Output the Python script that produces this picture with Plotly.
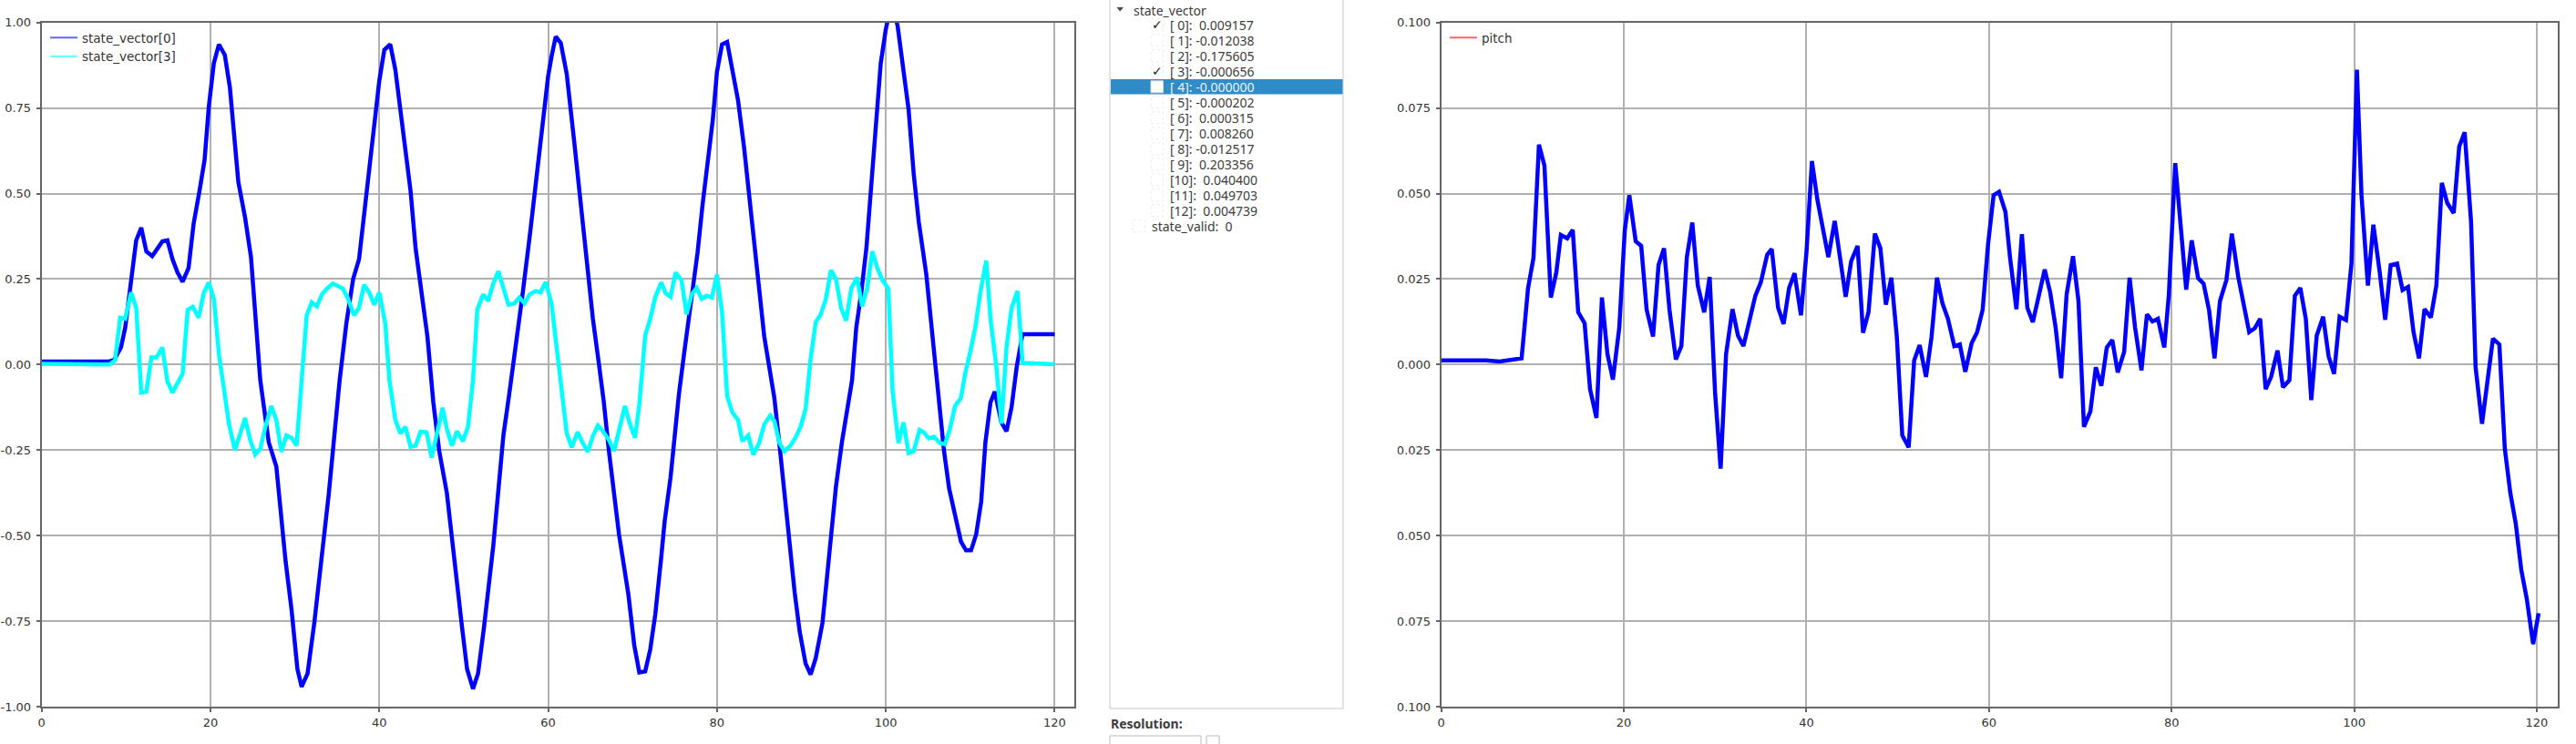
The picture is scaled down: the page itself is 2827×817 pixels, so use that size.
import plotly.graph_objects as go

W, H = 2827, 817

def px(x):
    return x / W

def py(y):
    return 1 - y / H

# ---------------- data ----------------
sv0_t = [0, 8.0, 8.6, 9.4, 9.9, 10.5, 11.2, 11.8, 12.4, 13.1, 13.7, 14.3, 14.9, 15.5, 16.1, 16.7, 17.4, 18.0,
         18.7, 19.3, 19.8, 20.4, 21.0, 21.7, 22.3, 23.3, 24.1, 24.8, 25.9, 26.9, 27.8, 28.9, 29.6, 30.3, 30.8,
         31.5, 32.3, 33.3, 34.0, 34.5, 35.3, 36.1, 36.9, 37.6, 38.2, 38.8, 39.4, 40.0, 40.6, 41.3, 41.9, 42.9,
         43.7, 44.3, 44.9, 45.7, 46.4, 47.1, 48.0, 48.6, 49.2, 49.8, 50.4, 51.1, 51.7, 52.4, 53.5, 54.1, 54.7,
         55.4, 56.2, 57.0, 57.9, 58.8, 59.4, 60.0, 60.4, 60.9, 61.5, 62.2, 63.1, 63.9, 64.7, 65.3, 66.0, 66.6,
         67.2, 67.8, 68.4, 69.5, 70.2, 70.8, 71.5, 72.1, 72.7, 73.4, 73.8, 74.5, 74.9, 75.5, 76.1, 76.5, 77.1,
         77.7, 78.3, 78.9, 79.5, 80.0, 80.6, 81.2, 81.8, 82.5, 83.2, 83.8, 84.4, 85.0, 85.6, 86.2, 86.8, 87.4,
         88.0, 88.6, 89.2, 89.8, 90.5, 91.1, 91.7, 92.5, 93.1, 93.7, 94.1, 94.8, 95.4, 96.0, 96.5, 97.1, 97.7,
         98.3, 98.8, 99.4, 100.0, 100.7, 101.4, 102.0, 102.7, 103.3, 103.9, 104.8, 105.6, 106.2, 106.9, 107.5,
         108.3, 108.9, 109.5, 110.1, 110.7, 111.3, 111.8, 112.4, 112.9, 113.7, 114.3, 114.9, 115.5, 116.2, 120.0]
sv0 = [0.009, 0.009, 0.014, 0.05, 0.108, 0.224, 0.363, 0.40, 0.331, 0.317, 0.338, 0.36, 0.363, 0.308, 0.269,
       0.242, 0.282, 0.411, 0.508, 0.598, 0.753, 0.881, 0.936, 0.905, 0.81, 0.534, 0.43, 0.314, -0.046, -0.227,
       -0.298, -0.575, -0.716, -0.89, -0.942, -0.903, -0.755, -0.549, -0.381, -0.253, -0.046, 0.121, 0.25,
       0.308, 0.443, 0.585, 0.714, 0.83, 0.92, 0.936, 0.862, 0.675, 0.508, 0.34, 0.224, 0.082, -0.111, -0.253,
       -0.375, -0.51, -0.652, -0.768, -0.89, -0.948, -0.903, -0.768, -0.53, -0.356, -0.207, -0.085, 0.057,
       0.211, 0.392, 0.585, 0.714, 0.843, 0.9, 0.959, 0.94, 0.85, 0.649, 0.469, 0.263, 0.134, 0.005, -0.111,
       -0.253, -0.369, -0.497, -0.671, -0.82, -0.9, -0.897, -0.832, -0.729, -0.562, -0.459, -0.33, -0.227,
       -0.085, 0.031, 0.102, 0.211, 0.327, 0.469, 0.598, 0.714, 0.856, 0.936, 0.943, 0.856, 0.772, 0.637,
       0.495, 0.34, 0.198, 0.082, -0.008, -0.098, -0.233, -0.381, -0.536, -0.665, -0.781, -0.874, -0.906,
       -0.858, -0.755, -0.613, -0.472, -0.356, -0.227, -0.143, -0.046, 0.108, 0.211, 0.34, 0.521, 0.701,
       0.881, 0.98, 1.06, 0.99, 0.881, 0.746, 0.559, 0.418, 0.263, 0.057, -0.085, -0.253, -0.362, -0.459,
       -0.517, -0.543, -0.543, -0.497, -0.401, -0.227, -0.111, -0.079, -0.169, -0.195, -0.124, -0.008,
       0.089, 0.089]

sv3_t = [0, 7.0, 8.0, 8.7, 9.3, 9.9, 10.6, 11.2, 11.8, 12.4, 13.0, 13.6, 14.3, 14.9, 15.5, 16.1, 16.7, 17.3,
         17.9, 18.6, 19.2, 19.8, 20.4, 21.0, 21.7, 22.2, 22.9, 23.5, 24.1, 24.7, 25.3, 25.9, 26.5, 27.2, 27.8,
         28.4, 29.0, 29.6, 30.2, 30.8, 31.4, 32.0, 32.6, 33.2, 33.8, 34.5, 35.1, 35.7, 36.3, 37.0, 37.6, 38.2,
         38.8, 39.4, 40.0, 40.7, 41.2, 41.9, 42.5, 43.1, 43.7, 44.3, 44.9, 45.6, 46.2, 46.9, 47.5, 48.0, 48.6,
         49.2, 49.9, 50.5, 51.1, 51.6, 52.3, 52.9, 53.5, 54.1, 54.7, 55.3, 56.0, 56.6, 57.2, 57.8, 58.5, 59.1,
         59.7, 60.4, 61.1, 61.7, 62.2, 62.8, 63.5, 64.1, 64.7, 65.3, 65.9, 66.5, 67.2, 67.8, 68.4, 69.1, 69.7,
         70.3, 70.8, 71.5, 72.1, 72.7, 73.4, 73.9, 74.5, 75.1, 75.8, 76.4, 77.0, 77.6, 78.2, 78.8, 79.4, 80.0,
         80.6, 81.2, 81.8, 82.5, 83.0, 83.7, 84.3, 85.0, 85.6, 86.3, 86.8, 87.4, 88.0, 88.7, 89.3, 89.9, 90.5,
         91.1, 91.7, 92.3, 92.9, 93.5, 94.1, 94.7, 95.3, 95.9, 96.6, 97.2, 97.8, 98.4, 99.0, 99.6, 100.3, 100.8,
         101.5, 102.1, 102.7, 103.3, 104.0, 104.5, 105.1, 105.7, 106.4, 107.0, 107.6, 108.2, 108.9, 109.4,
         110.0, 110.6, 111.2, 111.9, 112.4, 113.1, 113.7, 114.3, 114.9, 115.6, 116.2, 120.0]
sv3 = [0.002, 0.002, 0.0, 0.012, 0.137, 0.134, 0.211, 0.166, -0.082, -0.079, 0.021, 0.021, 0.05, -0.049,
       -0.082, -0.054, -0.027, 0.16, 0.169, 0.137, 0.209, 0.24, 0.192, 0.031, -0.098, -0.175, -0.25, -0.204,
       -0.156, -0.22, -0.263, -0.246, -0.182, -0.121, -0.162, -0.255, -0.207, -0.214, -0.237, -0.046, 0.144,
       0.182, 0.17, 0.205, 0.222, 0.237, 0.231, 0.222, 0.192, 0.144, 0.166, 0.233, 0.211, 0.175, 0.211, 0.121,
       -0.046, -0.162, -0.201, -0.182, -0.24, -0.237, -0.196, -0.198, -0.272, -0.195, -0.126, -0.188, -0.237,
       -0.195, -0.224, -0.182, -0.046, 0.16, 0.205, 0.186, 0.237, 0.273, 0.222, 0.175, 0.179, 0.196, 0.179,
       0.205, 0.215, 0.211, 0.241, 0.179, 0.031, -0.111, -0.201, -0.242, -0.197, -0.229, -0.255, -0.209,
       -0.178, -0.195, -0.22, -0.253, -0.188, -0.121, -0.175, -0.214, -0.117, 0.085, 0.134, 0.198, 0.24,
       0.209, 0.198, 0.269, 0.247, 0.147, 0.205, 0.224, 0.192, 0.201, 0.196, 0.263, 0.153, -0.091, -0.139,
       -0.162, -0.224, -0.207, -0.263, -0.229, -0.175, -0.149, -0.165, -0.229, -0.253, -0.237, -0.214,
       -0.182, -0.13, 0.018, 0.124, 0.147, 0.192, 0.276, 0.25, 0.166, 0.128, 0.222, 0.255, 0.17, 0.224,
       0.331, 0.282, 0.247, 0.222, -0.079, -0.229, -0.169, -0.259, -0.253, -0.191, -0.198, -0.216, -0.211,
       -0.229, -0.233, -0.188, -0.121, -0.098, -0.027, 0.037, 0.108, 0.211, 0.304, 0.134, -0.008, -0.173,
       0.05, 0.166, 0.215, 0.005, 0.001]

pitch_t = [0, 4.9, 6.4, 7.6, 8.8, 9.5, 10.1, 10.7, 11.3, 12.0, 12.6, 13.1, 13.8, 14.4, 15.0, 15.7, 16.3,
           17.0, 17.6, 18.2, 18.8, 19.5, 20.1, 20.6, 21.3, 21.9, 22.5, 23.2, 23.8, 24.4, 25.0, 25.7, 26.3,
           26.9, 27.5, 28.1, 28.8, 29.4, 30.0, 30.6, 31.2, 31.9, 32.5, 33.1, 33.8, 34.4, 35.0, 35.7, 36.2,
           36.9, 37.5, 38.1, 38.7, 39.4, 40.0, 40.6, 41.2, 41.8, 42.4, 43.1, 43.7, 44.3, 44.9, 45.6, 46.2,
           46.8, 47.5, 48.1, 48.7, 49.3, 49.9, 50.5, 51.2, 51.8, 52.4, 53.1, 53.7, 54.3, 54.9, 55.5, 56.2,
           56.8, 57.4, 58.1, 58.7, 59.3, 59.9, 60.5, 61.1, 61.8, 62.3, 63.0, 63.6, 64.2, 64.8, 65.4, 66.1,
           66.7, 67.3, 67.9, 68.5, 69.2, 69.8, 70.4, 71.1, 71.7, 72.3, 72.9, 73.5, 74.1, 74.8, 75.4, 76.0,
           76.7, 77.3, 77.9, 78.5, 79.2, 79.7, 80.4, 81.0, 81.6, 82.2, 82.9, 83.5, 84.1, 84.7, 85.3, 86.0,
           86.6, 87.3, 87.9, 88.5, 89.1, 89.7, 90.3, 90.9, 91.6, 92.2, 92.9, 93.5, 94.1, 94.7, 95.3, 95.9,
           96.6, 97.2, 97.8, 98.4, 99.1, 99.7, 100.3, 100.8, 101.5, 102.1, 102.8, 103.4, 104.0, 104.7, 105.3,
           105.9, 106.5, 107.1, 107.7, 108.4, 109.0, 109.6, 110.2, 110.9, 111.5, 112.1, 112.8, 113.3, 114.0,
           114.6, 115.2, 115.9, 116.5, 117.1, 117.7, 118.3, 118.9, 119.6, 120.2]
pitch = [0.0012, 0.0012, 0.0009, 0.0013, 0.0018, 0.0222, 0.0312, 0.0643, 0.0582, 0.0196, 0.0269, 0.0379,
         0.0369, 0.0394, 0.0153, 0.0121, -0.0072, -0.0156, 0.0196, 0.0031, -0.0044, 0.0108, 0.0392, 0.0495,
         0.036, 0.0347, 0.016, 0.0082, 0.0291, 0.034, 0.016, 0.0015, 0.0054, 0.0314, 0.0415, 0.0231, 0.0153,
         0.0256, -0.0085, -0.0304, 0.0031, 0.0162, 0.0085, 0.0054, 0.0128, 0.0201, 0.024, 0.0321, 0.0338,
         0.0166, 0.0119, 0.0224, 0.0267, 0.0144, 0.0327, 0.0595, 0.0482, 0.0398, 0.0314, 0.042, 0.0314,
         0.0198, 0.0302, 0.0347, 0.0093, 0.0153, 0.0383, 0.034, 0.0175, 0.0254, 0.0082, -0.0207, -0.0242,
         0.0012, 0.0057, -0.0036, 0.008, 0.0254, 0.0179, 0.0134, 0.0054, 0.0059, -0.0021, 0.0063, 0.0095,
         0.016, 0.0353, 0.0495, 0.0505, 0.0446, 0.0314, 0.0162, 0.0381, 0.0166, 0.0124, 0.0198, 0.0278,
         0.0211, 0.0108, -0.004, 0.0205, 0.0317, 0.0186, -0.0182, -0.0137, -0.0008, -0.0062, 0.005, 0.0072,
         -0.0023, 0.0037, 0.0254, 0.0108, -0.0017, 0.0147, 0.0126, 0.0134, 0.005, 0.0205, 0.0589, 0.0385,
         0.0219, 0.0363, 0.0253, 0.0237, 0.016, 0.0018, 0.0186, 0.0247, 0.0383, 0.0256, 0.0173, 0.0095,
         0.0106, 0.0134, -0.0072, -0.0036, 0.0041, -0.0066, -0.0046, 0.0201, 0.0224, 0.0134, -0.0104, 0.0085,
         0.014, 0.0024, -0.0027, 0.014, 0.013, 0.0295, 0.0862, 0.0495, 0.0231, 0.0409, 0.0269, 0.0131, 0.0291,
         0.0295, 0.0218, 0.0227, 0.0095, 0.0018, 0.0162, 0.0138, 0.0231, 0.0531, 0.0472, 0.0443, 0.0637,
         0.0679, 0.0418, -0.0008, -0.0173, -0.0049, 0.0076, 0.0059, -0.0246, -0.0375, -0.0465, -0.06,
         -0.0684, -0.0817, -0.0727]

x_ticks = [0, 20, 40, 60, 80, 100, 120]
x_ticktext = ["0", "20", "40", "60", "80", "100", "120"]
left_yticks = [-1.0, -0.75, -0.5, -0.25, 0.0, 0.25, 0.5, 0.75, 1.0]
left_yticktext = ["-1.00", "-0.75", "-0.50", "-0.25", "0.00", "0.25", "0.50", "0.75", "1.00"]
right_yticks = [-0.1, -0.075, -0.05, -0.025, 0.0, 0.025, 0.05, 0.075, 0.1]
right_yticktext = ["-0.100", "-0.075", "-0.050", "-0.025", "0.000", "0.025", "0.050", "0.075", "0.100"]

tree_labels = ["[ 0]:", "[ 1]:", "[ 2]:", "[ 3]:", "[ 4]:", "[ 5]:", "[ 6]:", "[ 7]:", "[ 8]:", "[ 9]:",
               "[10]:", "[11]:", "[12]:"]
tree_values = ["0.009157", "-0.012038", "-0.175605", "-0.000656", "-0.000000", "-0.000202", "0.000315",
               "0.008260", "-0.012517", "0.203356", "0.040400", "0.049703", "0.004739"]
tree_checked = [True, False, False, True, False, False, False, False, False, False, False, False, False]
selected_row = 4

# ---------------- figure ----------------
fig = go.Figure()

fig.add_trace(go.Scatter(x=sv0_t, y=sv0, mode="lines", line=dict(color="#0000ff", width=4.5),
                         xaxis="x", yaxis="y", showlegend=False, hoverinfo="skip"))
fig.add_trace(go.Scatter(x=sv3_t, y=sv3, mode="lines", line=dict(color="#00ffff", width=4.5),
                         xaxis="x", yaxis="y", showlegend=False, hoverinfo="skip"))
fig.add_trace(go.Scatter(x=pitch_t, y=pitch, mode="lines", line=dict(color="#0000ff", width=4.5),
                         xaxis="x2", yaxis="y2", showlegend=False, hoverinfo="skip"))
# legend entries (legend swatches are drawn lighter, as in the original)
fig.add_trace(go.Scatter(x=[None], y=[None], mode="lines", name="state_vector[0]",
                         line=dict(color="#6464ff", width=2), xaxis="x", yaxis="y", legend="legend"))
fig.add_trace(go.Scatter(x=[None], y=[None], mode="lines", name="state_vector[3]",
                         line=dict(color="#64ffff", width=2), xaxis="x", yaxis="y", legend="legend"))
fig.add_trace(go.Scatter(x=[None], y=[None], mode="lines", name="pitch",
                         line=dict(color="#ff6464", width=2), xaxis="x2", yaxis="y2", legend="legend2"))

tickfont = dict(family="DejaVu Sans", size=13, color="#333333")
common_axis = dict(showgrid=True, gridcolor="#b0b0b0", gridwidth=1.5, showline=True, linecolor="#666666",
                   linewidth=2, mirror=True, ticks="outside", ticklen=4, tickwidth=1.5, tickcolor="#666666",
                   zeroline=False, tickfont=tickfont, automargin=False, fixedrange=True)

ydom = [1 - 776 / H, 1 - 24.7 / H]
fig.update_layout(
    width=W, height=H,
    margin=dict(l=0, r=0, t=0, b=0),
    paper_bgcolor="white", plot_bgcolor="white",
    xaxis=dict(domain=[px(45.7), px(1178.7)], range=[0, 122.3], anchor="y",
               tickvals=x_ticks, ticktext=x_ticktext, **common_axis),
    yaxis=dict(domain=ydom, range=[-1, 1], anchor="x", ticklabelstandoff=3,
               tickvals=left_yticks, ticktext=left_yticktext, **common_axis),
    xaxis2=dict(domain=[px(1581.7), px(2807)], range=[0, 122.3], anchor="y2",
                tickvals=x_ticks, ticktext=x_ticktext, **common_axis),
    yaxis2=dict(domain=ydom, range=[-0.1, 0.1], anchor="x2", ticklabelstandoff=3,
                tickvals=right_yticks, ticktext=right_yticktext, **common_axis),
    legend=dict(x=px(50), y=py(26), xanchor="left", yanchor="top", bgcolor="rgba(0,0,0,0)",
                font=dict(family="DejaVu Sans", size=13.5, color="#333333"), tracegroupgap=0),
    legend2=dict(x=px(1586), y=py(26), xanchor="left", yanchor="top", bgcolor="rgba(0,0,0,0)",
                 font=dict(family="DejaVu Sans", size=13.5, color="#333333")),
)

shapes = []
annotations = []

# white mask clipping the left part of the right plot's tick labels
shapes.append(dict(type="rect", xref="paper", yref="paper", x0=px(1476), x1=px(1533.5), y0=0, y1=1,
                   fillcolor="white", line=dict(width=0), layer="above"))

# tree widget frame
shapes.append(dict(type="rect", xref="paper", yref="paper", x0=px(1218), x1=px(1474), y0=py(778), y1=py(-10),
                   fillcolor="white", line=dict(color="#c9c6c1", width=1), layer="above"))
# selection highlight
shapes.append(dict(type="rect", xref="paper", yref="paper", x0=px(1219), x1=px(1473.5), y0=py(103.5), y1=py(87),
                   fillcolor="#308cc6", line=dict(width=0), layer="above"))
# expand arrow
shapes.append(dict(type="path", xref="paper", yref="paper",
                   path=f"M {px(1225.5)} {py(8)} L {px(1233)} {py(8)} L {px(1229.2)} {py(12.5)} Z",
                   fillcolor="#4a4a4a", line=dict(width=0), layer="above"))
annotations.append(dict(xref="paper", yref="paper", x=px(1242), y=py(11), xanchor="left", yanchor="middle",
                        text="state_vector", showarrow=False,
                        font=dict(family="Noto Sans", size=14, color="#3c3c3c")))

for i, (lab, val, chk) in enumerate(zip(tree_labels, tree_values, tree_checked)):
    yc = 27.3 + 17 * i
    sel = (i == selected_row)
    if sel:
        shapes.append(dict(type="rect", xref="paper", yref="paper", x0=px(1263), x1=px(1276.5),
                           y0=py(yc + 6.5), y1=py(yc - 6.5), fillcolor="white",
                           line=dict(color="#d8d8d8", width=1), layer="above"))
    else:
        shapes.append(dict(type="rect", xref="paper", yref="paper", x0=px(1263), x1=px(1276.5),
                           y0=py(yc + 6.5), y1=py(yc - 6.5), fillcolor="rgba(0,0,0,0)",
                           line=dict(color="#ececec", width=1, dash="dot"), layer="above"))
    if chk:
        annotations.append(dict(xref="paper", yref="paper", x=px(1270), y=py(yc), xanchor="center",
                                yanchor="middle", text="✓", showarrow=False,
                                font=dict(family="DejaVu Sans", size=14, color="#222222")))
    pad = " " if not val.startswith("-") else ""
    annotations.append(dict(xref="paper", yref="paper", x=px(1281.5), y=py(yc), xanchor="left",
                            yanchor="middle", text=f"{lab} {pad}{val}", showarrow=False,
                            font=dict(family="Noto Sans", size=14,
                                      color="#eaf2fa" if sel else "#3c3c3c")))

yc = 27.3 + 17 * 13
shapes.append(dict(type="rect", xref="paper", yref="paper", x0=px(1243), x1=px(1256.5),
                   y0=py(yc + 6.5), y1=py(yc - 6.5), fillcolor="rgba(0,0,0,0)",
                   line=dict(color="#ececec", width=1, dash="dot"), layer="above"))
annotations.append(dict(xref="paper", yref="paper", x=px(1262), y=py(yc), xanchor="left", yanchor="middle",
                        text="state_valid:  0", showarrow=False,
                        font=dict(family="Noto Sans", size=14, color="#3c3c3c")))

# resolution controls
annotations.append(dict(xref="paper", yref="paper", x=px(1217), y=py(794), xanchor="left", yanchor="middle",
                        text="<b>Resolution:</b>", showarrow=False,
                        font=dict(family="Noto Sans", size=14, color="#3c3c3c")))
shapes.append(dict(type="rect", xref="paper", yref="paper", x0=px(1218), x1=px(1318), y0=py(830), y1=py(808),
                   fillcolor="white", line=dict(color="#bdbab5", width=1), layer="above"))
shapes.append(dict(type="rect", xref="paper", yref="paper", x0=px(1324), x1=px(1338), y0=py(830), y1=py(808),
                   fillcolor="white", line=dict(color="#bdbab5", width=1), layer="above"))

fig.update_layout(shapes=shapes, annotations=annotations)

fig.write_html("out.html", config={"displayModeBar": False},
               post_script="document.body.style.margin='0px';document.body.style.padding='0px';"
                           "document.body.style.overflow='hidden';")
